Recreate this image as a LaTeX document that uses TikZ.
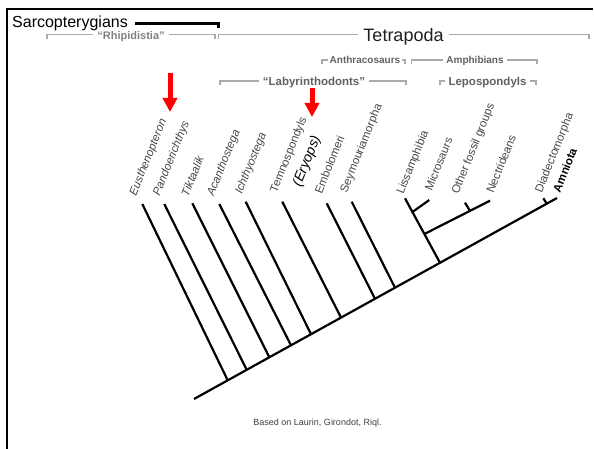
\documentclass[tikz,border=0pt]{standalone}
\usepackage{fontspec}
\setmainfont{Liberation Sans}
\usetikzlibrary{arrows.meta,positioning,calc}
\tikzset{
  taxon/.style={anchor=base west, inner sep=0pt, rotate=68, text=black!72, font=\fontsize{11.5}{13}\selectfont},
  genus/.style={taxon, font=\fontsize{11.5}{13}\selectfont\itshape},
  branch/.style={line width=2.2pt},
  bracket/.style={draw=black!33, line width=1.3pt},
  grouplabel/.style={anchor=base, inner sep=3pt, text=black!62, font=\fontsize{10}{12}\selectfont\bfseries},
  pointer/.style={-{Triangle[length=14pt,width=14pt]}, line width=5pt, red}
}

\begin{document}
\begin{tikzpicture}[x=1pt,y=-1pt]
	\useasboundingbox (0,0) rectangle (594,449);
	\draw[line width=2.5pt] (7,449) -- (7,9) -- (593,9);

	% top groups
	\node[anchor=base west, inner sep=0pt, font=\fontsize{16}{18}\selectfont] (sarco) at (12,27.3) {Sarcopterygians};
	\coordinate (sarcoend) at (218.3,28.5);
	\draw[line width=2.7pt] ([xshift=7pt]sarco.east) -| (sarcoend);

	\node[grouplabel, inner sep=4pt, text=black!50, font=\fontsize{11}{13}\selectfont\bfseries] (rhip) at (131,39.3) {``Rhipidistia''};
	\coordinate (rhipL) at (47,34.3);
	\coordinate (rhipR) at (215,34.3);
	\draw[bracket] ([yshift=-5pt]rhipL) -- (rhipL) -- (rhipL -| rhip.west);
	\draw[bracket] (rhip.east |- rhipR) -- (rhipR) -- ([yshift=-5pt]rhipR);

	\node[grouplabel, inner sep=5.5pt, text=black!88, font=\fontsize{18}{20}\selectfont] (tetra) at (403.5,41.7) {Tetrapoda};
	\coordinate (tetraL) at (218.5,34.3);
	\coordinate (tetraR) at (589,34.3);
	\draw[bracket] ([yshift=-5pt]tetraL) -- (tetraL) -- (tetraL -| tetra.west);
	\draw[bracket] (tetra.east |- tetraR) -- (tetraR) -- ([yshift=-5pt]tetraR);

	\node[grouplabel, inner sep=2pt] (anthra) at (365,63.3) {Anthracosaurs};
	\coordinate (anthraL) at (322,60);
	\coordinate (anthraR) at (405,60);
	\draw[bracket] ([yshift=-4pt]anthraL) -- (anthraL) -- (anthraL -| anthra.west);
	\draw[bracket] (anthra.east |- anthraR) -- (anthraR) -- ([yshift=-4pt]anthraR);

	\node[grouplabel] (amph) at (475,63.3) {Amphibians};
	\coordinate (amphL) at (411.7,60);
	\coordinate (amphR) at (537,60);
	\draw[bracket] ([yshift=-4pt]amphL) -- (amphL) -- (amphL -| amph.west);
	\draw[bracket] (amph.east |- amphR) -- (amphR) -- ([yshift=-4pt]amphR);

	\node[grouplabel, inner sep=4pt, font=\fontsize{11.5}{13}\selectfont\bfseries] (laby) at (314,85.3) {``Labyrinthodonts''};
	\coordinate (labyL) at (220,81);
	\coordinate (labyR) at (406,81);
	\draw[bracket] ([yshift=-4pt]labyL) -- (labyL) -- (labyL -| laby.west);
	\draw[bracket] (laby.east |- labyR) -- (labyR) -- ([yshift=-4pt]labyR);

	\node[grouplabel, font=\fontsize{11.5}{13}\selectfont\bfseries] (lepo) at (487.5,85.3) {Lepospondyls};
	\coordinate (lepoL) at (440,81);
	\coordinate (lepoR) at (536,81);
	\draw[bracket] ([yshift=-4pt]lepoL) -- (lepoL) -- (lepoL -| lepo.west);
	\draw[bracket] (lepo.east |- lepoR) -- (lepoR) -- ([yshift=-4pt]lepoR);

	% red pointers
	\coordinate (ptrA) at (170,73);
	\coordinate (tipA) at (170,112);
	\coordinate (ptrB) at (312,88);
	\coordinate (tipB) at (312,117);
	\path (ptrA) edge [pointer] (tipA);
	\path (ptrB) edge [pointer] (tipB);

	% taxa
	\node[genus] (eus) at (136,196.5) {Eusthenopteron};
	\node[genus] (pan) at (159.5,196.7) {Pandoerichthys};
	\node[genus] (tik) at (188.3,197.3) {Tiktaalik};
	\node[genus] (aca) at (213.5,196.7) {Acanthostega};
	\node[genus] (ich) at (241.7,195) {Ichthyostega};
	\node[taxon] (tem) at (276.7,193.3) {Temnospondyls};
	\node[taxon, text=black, font=\fontsize{14}{16}\selectfont\itshape] (ery) at (300.5,187.2) {(Eryops)};
	\node[taxon] (emb) at (321.7,195) {Embolomeri};
	\node[taxon] (sey) at (346.7,193.3) {Seymouriamorpha};
	\node[taxon] (lis) at (403.3,195) {Lissamphibia};
	\node[taxon] (mic) at (431.7,191.7) {Microsaurs};
	\node[taxon] (oth) at (458.3,195) {Other fossil groups};
	\node[taxon] (nec) at (493.3,194) {Nectrideans};
	\node[taxon] (dia) at (541.7,193.3) {Diadectomorpha};
	\node[taxon, text=black, font=\fontsize{11.5}{13}\selectfont\bfseries] (amn) at (560,193.3) {Amniota};

	% tree
	\coordinate (root) at (194,399);
	\coordinate (amnT) at (557,198);
	\coordinate (eusT) at (142.3,204);   \coordinate (eusB) at (227.7,380.3);
	\coordinate (panT) at (164.3,204);   \coordinate (panB) at (246.7,369.8);
	\coordinate (tikT) at (192.3,203.3); \coordinate (tikB) at (269.3,357.3);
	\coordinate (acaT) at (219.3,204);   \coordinate (acaB) at (291,345.3);
	\coordinate (ichT) at (245.7,201.7); \coordinate (ichB) at (311,334.2);
	\coordinate (temT) at (282.3,201.7); \coordinate (temB) at (341,317.6);
	\coordinate (embT) at (326.7,203.3); \coordinate (embB) at (375,298.8);
	\coordinate (seyT) at (351.7,201.7); \coordinate (seyB) at (395,287.7);
	\coordinate (lisT) at (405,198.3);   \coordinate (lisB) at (440,262.8);
	\coordinate (micT) at (429.3,200);   \coordinate (micJ) at (412.4,212);
	\coordinate (necT) at (490,200.7);   \coordinate (lepJ) at (424.4,234);
	\coordinate (othT) at (465,202.7);   \coordinate (othJ) at (470,210.9);
	\coordinate (diaT) at (543.3,198.3); \coordinate (diaJ) at (546.7,203.5);

	\path (root) edge [branch] (amnT);
	\path (eusT) edge [branch] (eusB);
	\path (panT) edge [branch] (panB);
	\path (tikT) edge [branch] (tikB);
	\path (acaT) edge [branch] (acaB);
	\path (ichT) edge [branch] (ichB);
	\path (temT) edge [branch] (temB);
	\path (embT) edge [branch] (embB);
	\path (seyT) edge [branch] (seyB);
	\path (lisT) edge [branch] (lisB);
	\path (micJ) edge [branch] (micT);
	\path (lepJ) edge [branch] (necT);
	\path (othJ) edge [branch] (othT);
	\path (diaJ) edge [branch] (diaT);

	\node[text=black!75, font=\fontsize{9}{11}\selectfont] (source) at (317.5,422.7) {Based on Laurin, Girondot, Riql.};
\end{tikzpicture}
\end{document}
